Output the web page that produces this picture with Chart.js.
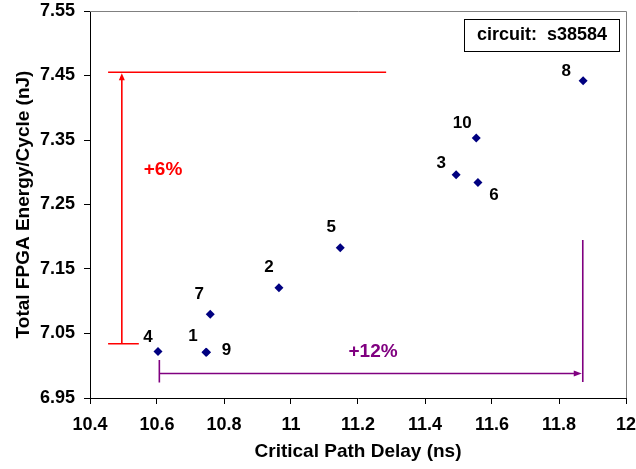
<!DOCTYPE html>
<html><head><meta charset="utf-8">
<script src="https://cdn.jsdelivr.net/npm/chart.js@4.4.1/dist/chart.umd.min.js"></script>
<style>html,body{margin:0;padding:0;background:#fff}#wrap{width:636px;height:469px}</style>
</head><body><div id="wrap"><canvas id="c"></canvas></div>
<script>
// Data
const pointNames = ['1','2','3','4','5','6','7','8','9','10'];
const delayNs = [10.746, 10.964, 11.493, 10.603, 11.147, 11.558, 10.759, 11.872, 10.748, 11.553];
const energyNJ = [7.021, 7.121, 7.296, 7.022, 7.183, 7.284, 7.080, 7.442, 7.021, 7.353];
const xTicks = [10.4, 10.6, 10.8, 11, 11.2, 11.4, 11.6, 11.8, 12];
const yTicks = [6.95, 7.05, 7.15, 7.25, 7.35, 7.45, 7.55];
const circuitName = 'circuit:  s38584';
// annotation values (data units)
const energyRange = { x: 10.495, from: 7.034, to: 7.455, topLineTo: 11.284, startX: 10.454, label: '+6%', labelAt: [10.618, 7.3035] };
const delayRange = { y: 6.988, from: 10.607, to: 11.868, tickFrom: 7.009, tickTo: 6.974, endTop: 7.195, endBottom: 6.975, label: '+12%', labelAt: [11.245, 7.0213] };
// label offsets in pixels (style)
const labelOffsets = [[-13,-16],[-10,-20],[-15,-12],[-10,-14],[-9,-20],[16,13],[-11,-20],[-17,-9],[20,-2],[-14,-15]];

const FONT = '"Liberation Sans", Arial, sans-serif';

const annot = {
  id: 'annot',
  afterDatasetsDraw(chart) {
    const ctx = chart.ctx, xs = chart.scales.x, ys = chart.scales.y, ca = chart.chartArea;
    ctx.save();
    // top & right border
    ctx.strokeStyle = '#808080'; ctx.lineWidth = 1;
    ctx.beginPath();
    ctx.moveTo(ca.left, ca.top + 0.5); ctx.lineTo(ca.right + 0.5, ca.top + 0.5); ctx.lineTo(ca.right + 0.5, ca.bottom);
    ctx.stroke();
    const X = v => xs.getPixelForValue(v), Y = v => ys.getPixelForValue(v);
    // red energy range
    ctx.strokeStyle = '#ff0000'; ctx.fillStyle = '#ff0000'; ctx.lineWidth = 1.6;
    ctx.beginPath();
    ctx.moveTo(X(energyRange.startX), Y(energyRange.to)); ctx.lineTo(X(energyRange.topLineTo), Y(energyRange.to));
    ctx.moveTo(X(energyRange.startX), Y(energyRange.from)); ctx.lineTo(X(energyRange.x) + 17, Y(energyRange.from));
    ctx.moveTo(X(energyRange.x), Y(energyRange.from)); ctx.lineTo(X(energyRange.x), Y(energyRange.to) + 6);
    ctx.stroke();
    ctx.beginPath();
    ctx.moveTo(X(energyRange.x), Y(energyRange.to) + 1);
    ctx.lineTo(X(energyRange.x) - 3, Y(energyRange.to) + 8);
    ctx.lineTo(X(energyRange.x) + 3, Y(energyRange.to) + 8);
    ctx.closePath(); ctx.fill();
    ctx.font = 'bold 19px ' + FONT; ctx.textAlign = 'center'; ctx.textBaseline = 'middle';
    ctx.fillText(energyRange.label, X(energyRange.labelAt[0]), Y(energyRange.labelAt[1]));
    // purple delay range
    ctx.strokeStyle = '#800080'; ctx.fillStyle = '#800080';
    ctx.beginPath();
    ctx.moveTo(X(delayRange.from), Y(delayRange.tickFrom)); ctx.lineTo(X(delayRange.from), Y(delayRange.tickTo));
    ctx.moveTo(X(delayRange.from), Y(delayRange.y)); ctx.lineTo(X(delayRange.to) - 6, Y(delayRange.y));
    ctx.moveTo(X(delayRange.to) + 1, Y(delayRange.endTop)); ctx.lineTo(X(delayRange.to) + 1, Y(delayRange.endBottom));
    ctx.stroke();
    ctx.beginPath();
    ctx.moveTo(X(delayRange.to), Y(delayRange.y));
    ctx.lineTo(X(delayRange.to) - 8, Y(delayRange.y) - 3);
    ctx.lineTo(X(delayRange.to) - 8, Y(delayRange.y) + 3);
    ctx.closePath(); ctx.fill();
    ctx.fillText(delayRange.label, X(delayRange.labelAt[0]), Y(delayRange.labelAt[1]));
    // point labels
    ctx.fillStyle = '#000'; ctx.font = 'bold 17px ' + FONT;
    const meta = chart.getDatasetMeta(0);
    meta.data.forEach((el, i) => {
      ctx.fillText(pointNames[i], el.x + labelOffsets[i][0], el.y + labelOffsets[i][1]);
    });
    // legend box
    ctx.strokeStyle = '#000'; ctx.lineWidth = 1;
    ctx.strokeRect(464.5, 19.5, 155, 32);
    ctx.font = 'bold 18px ' + FONT;
    ctx.fillText(circuitName, 542, 35);
    ctx.restore();
  }
};

new Chart(document.getElementById('c'), {
  type: 'scatter',
  data: { datasets: [{
    data: delayNs.map((x, i) => ({ x, y: energyNJ[i] })),
    pointStyle: 'rectRot', pointRadius: 4.5, pointHoverRadius: 4.5,
    backgroundColor: '#000080', borderColor: '#000080', borderWidth: 0
  }]},
  options: {
    responsive: true, maintainAspectRatio: false, animation: false,
    layout: { padding: { top: 11, right: 10, left: 0, bottom: 0 } },
    plugins: { legend: { display: false }, tooltip: { enabled: false } },
    scales: {
      x: {
        type: 'linear', min: xTicks[0], max: xTicks[xTicks.length - 1],
        afterBuildTicks: s => { s.ticks = xTicks.map(v => ({ value: v })); },
        afterFit: s => { s.height = 71; s.paddingRight = 0; s.paddingLeft = 0; },
        ticks: { color: '#000', font: { family: FONT, size: 18, weight: 'bold' }, padding: 10, maxRotation: 0,
          callback: v => String(Number(v.toFixed(1))) },
        grid: { display: true, drawOnChartArea: false, drawTicks: true, tickLength: 6, color: '#000' },
        border: { display: true, color: '#000', width: 1 },
        title: { display: true, text: 'Critical Path Delay (ns)', color: '#000', font: { family: FONT, size: 19, weight: 'bold' }, padding: { top: 0, bottom: 6 } }
      },
      y: {
        type: 'linear', min: yTicks[0], max: yTicks[yTicks.length - 1],
        afterBuildTicks: s => { s.ticks = yTicks.map(v => ({ value: v })); },
        afterFit: s => { s.width = 90; s.paddingTop = 0; s.paddingBottom = 0; },
        ticks: { color: '#000', font: { family: FONT, size: 18, weight: 'bold' }, padding: 9,
          callback: v => v.toFixed(2) },
        grid: { display: true, drawOnChartArea: false, drawTicks: true, tickLength: 6, color: '#000' },
        border: { display: true, color: '#000', width: 1 },
        title: { display: true, text: 'Total FPGA Energy/Cycle (nJ)', color: '#000', font: { family: FONT, size: 19, weight: 'bold' }, padding: { top: 12, bottom: 4 } }
      }
    }
  },
  plugins: [annot]
});
</script></body></html>
